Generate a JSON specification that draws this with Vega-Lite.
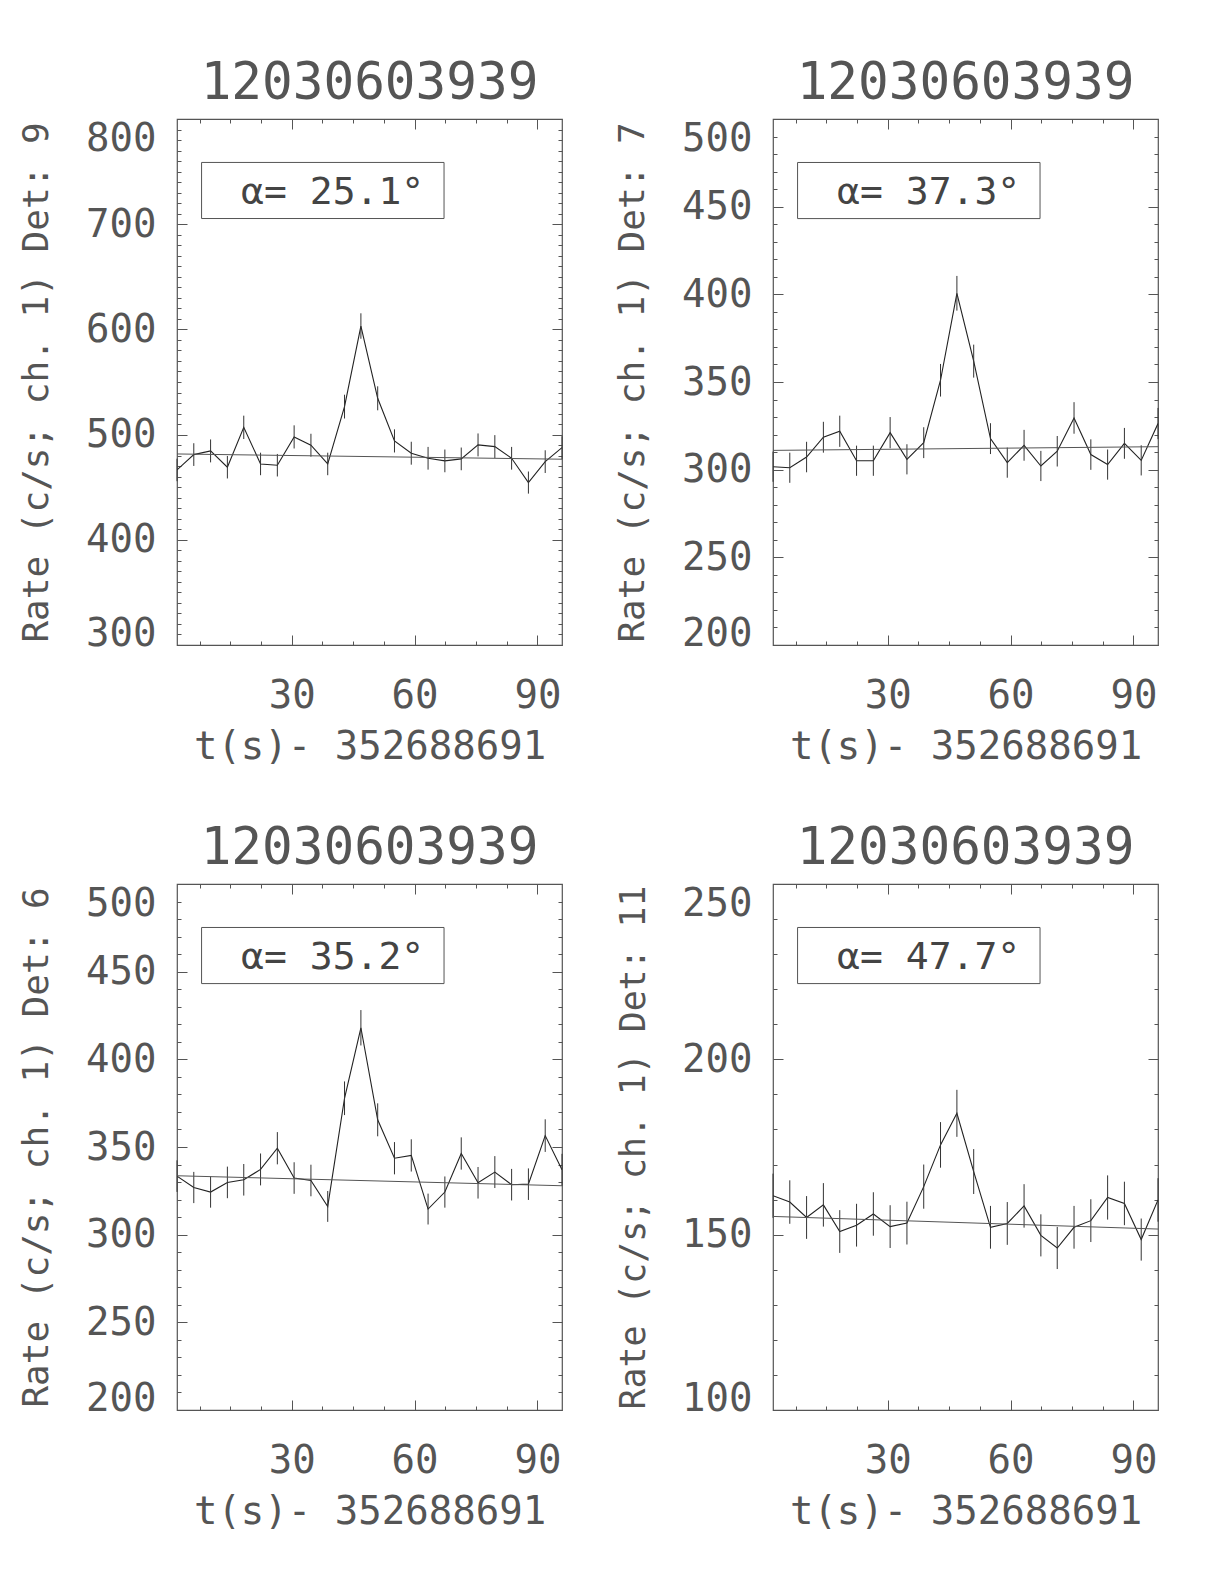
{
  "$schema": "https://vega.github.io/schema/vega-lite/v6.json",
  "padding": {"left": 17, "top": 56, "right": 10, "bottom": 10},
  "background": "white",
  "datasets": {
    "p1": [
      {"t": 2.0, "rate": 466.4, "err": 10.7}, {"t": 6.1, "rate": 481.0, "err": 10.8}, {"t": 10.2, "rate": 484.5, "err": 10.9}, {"t": 14.3, "rate": 469.0, "err": 10.7},
      {"t": 18.3, "rate": 506.9, "err": 11.1}, {"t": 22.4, "rate": 472.1, "err": 10.7}, {"t": 26.5, "rate": 470.9, "err": 10.7}, {"t": 30.6, "rate": 497.8, "err": 11.0},
      {"t": 34.7, "rate": 489.9, "err": 10.9}, {"t": 38.8, "rate": 472.1, "err": 10.7}, {"t": 42.9, "rate": 526.6, "err": 11.3}, {"t": 46.9, "rate": 603.2, "err": 12.1},
      {"t": 51.0, "rate": 534.5, "err": 11.4}, {"t": 55.1, "rate": 494.0, "err": 11.0}, {"t": 59.2, "rate": 482.3, "err": 10.9}, {"t": 63.3, "rate": 477.5, "err": 10.8},
      {"t": 67.4, "rate": 475.0, "err": 10.8}, {"t": 71.4, "rate": 476.9, "err": 10.8}, {"t": 75.5, "rate": 490.2, "err": 10.9}, {"t": 79.6, "rate": 488.6, "err": 10.9},
      {"t": 83.7, "rate": 477.5, "err": 10.8}, {"t": 87.8, "rate": 454.4, "err": 10.5}, {"t": 91.9, "rate": 474.3, "err": 10.8}, {"t": 96.0, "rate": 487.6, "err": 10.9}
    ],
    "p2": [
      {"t": 2.0, "rate": 301.7, "err": 8.6}, {"t": 6.1, "rate": 301.1, "err": 8.6}, {"t": 10.2, "rate": 307.2, "err": 8.7}, {"t": 14.3, "rate": 318.5, "err": 8.8},
      {"t": 18.3, "rate": 321.9, "err": 8.9}, {"t": 22.4, "rate": 305.1, "err": 8.6}, {"t": 26.5, "rate": 305.1, "err": 8.6}, {"t": 30.6, "rate": 321.1, "err": 8.9},
      {"t": 34.7, "rate": 305.9, "err": 8.6}, {"t": 38.8, "rate": 315.4, "err": 8.8}, {"t": 42.9, "rate": 351.0, "err": 9.3}, {"t": 46.9, "rate": 400.6, "err": 9.9},
      {"t": 51.0, "rate": 361.9, "err": 9.4}, {"t": 55.1, "rate": 317.7, "err": 8.8}, {"t": 59.2, "rate": 304.0, "err": 8.6}, {"t": 63.3, "rate": 313.9, "err": 8.8},
      {"t": 67.4, "rate": 302.1, "err": 8.6}, {"t": 71.4, "rate": 310.5, "err": 8.7}, {"t": 75.5, "rate": 329.5, "err": 9.0}, {"t": 79.6, "rate": 308.6, "err": 8.7},
      {"t": 83.7, "rate": 302.9, "err": 8.6}, {"t": 87.8, "rate": 315.0, "err": 8.8}, {"t": 91.9, "rate": 305.3, "err": 8.6}, {"t": 96.0, "rate": 326.3, "err": 8.9}
    ],
    "p3": [
      {"t": 2.0, "rate": 333.4, "err": 9.0}, {"t": 6.1, "rate": 326.9, "err": 8.9}, {"t": 10.2, "rate": 324.3, "err": 8.9}, {"t": 14.3, "rate": 329.8, "err": 9.0},
      {"t": 18.3, "rate": 331.3, "err": 9.0}, {"t": 22.4, "rate": 337.2, "err": 9.1}, {"t": 26.5, "rate": 349.3, "err": 9.2}, {"t": 30.6, "rate": 332.3, "err": 9.0},
      {"t": 34.7, "rate": 330.9, "err": 9.0}, {"t": 38.8, "rate": 316.1, "err": 8.8}, {"t": 42.9, "rate": 377.8, "err": 9.6}, {"t": 46.9, "rate": 418.0, "err": 10.1},
      {"t": 51.0, "rate": 365.5, "err": 9.4}, {"t": 55.1, "rate": 343.6, "err": 9.2}, {"t": 59.2, "rate": 345.2, "err": 9.2}, {"t": 63.3, "rate": 314.6, "err": 8.8},
      {"t": 67.4, "rate": 324.3, "err": 8.9}, {"t": 71.4, "rate": 346.3, "err": 9.2}, {"t": 75.5, "rate": 329.6, "err": 9.0}, {"t": 79.6, "rate": 335.7, "err": 9.1},
      {"t": 83.7, "rate": 328.5, "err": 9.0}, {"t": 87.8, "rate": 328.8, "err": 9.0}, {"t": 91.9, "rate": 356.5, "err": 9.3}, {"t": 96.0, "rate": 337.0, "err": 9.1}
    ],
    "p4": [
      {"t": 2.0, "rate": 161.1, "err": 6.3}, {"t": 6.1, "rate": 159.3, "err": 6.2}, {"t": 10.2, "rate": 154.9, "err": 6.1}, {"t": 14.3, "rate": 158.5, "err": 6.2},
      {"t": 18.3, "rate": 150.9, "err": 6.1}, {"t": 22.4, "rate": 152.7, "err": 6.1}, {"t": 26.5, "rate": 155.9, "err": 6.2}, {"t": 30.6, "rate": 152.3, "err": 6.1},
      {"t": 34.7, "rate": 153.3, "err": 6.1}, {"t": 38.8, "rate": 163.7, "err": 6.3}, {"t": 42.9, "rate": 175.6, "err": 6.5}, {"t": 46.9, "rate": 184.6, "err": 6.7},
      {"t": 51.0, "rate": 168.0, "err": 6.4}, {"t": 55.1, "rate": 152.1, "err": 6.1}, {"t": 59.2, "rate": 153.2, "err": 6.1}, {"t": 63.3, "rate": 158.2, "err": 6.2},
      {"t": 67.4, "rate": 149.8, "err": 6.0}, {"t": 71.4, "rate": 146.2, "err": 6.0}, {"t": 75.5, "rate": 152.1, "err": 6.1}, {"t": 79.6, "rate": 154.0, "err": 6.1},
      {"t": 83.7, "rate": 160.6, "err": 6.3}, {"t": 87.8, "rate": 158.9, "err": 6.2}, {"t": 91.9, "rate": 148.6, "err": 6.0}, {"t": 96.0, "rate": 159.9, "err": 6.2}
    ],
    "f1": [{"t": 2.0, "rate": 481.6}, {"t": 96.0, "rate": 476.6}],
    "f2": [{"t": 2.0, "rate": 311.0}, {"t": 96.0, "rate": 313.1}],
    "f3": [{"t": 2.0, "rate": 333.6}, {"t": 96.0, "rate": 327.9}],
    "f4": [{"t": 2.0, "rate": 155.2}, {"t": 96.0, "rate": 151.6}],
    "a1": [{"label": "α= 25.1°"}],
    "a2": [{"label": "α= 37.3°"}],
    "a3": [{"label": "α= 35.2°"}],
    "a4": [{"label": "α= 47.7°"}]
  },
  "columns": 2,
  "spacing": {"row": 239, "column": 211},
  "bounds": "flush",
  "concat": [
    {
      "width": 385, "height": 526,
      "title": "12030603939",
      "resolve": {"axis": {"x": "independent", "y": "independent"}},
      "layer": [
        {
          "data": {"name": "p1"},
          "mark": {"type": "line", "color": "#222", "strokeWidth": 1.1, "clip": true},
          "encoding": {
            "x": {"field": "t", "type": "quantitative", "scale": {"domain": [2, 96], "nice": false, "zero": false},
              "axis": {"orient": "bottom", "values": [30, 60, 90], "tickSize": -10, "labelPadding": 41, "title": "t(s)- 352688691", "titlePadding": 12}},
            "y": {"field": "rate", "type": "quantitative", "scale": {"domain": [300, 800], "nice": false, "zero": false},
              "axis": {"orient": "left", "values": [300, 400, 500, 600, 700, 800], "tickSize": -10, "labelPadding": 31, "title": "Rate (c/s; ch. 1) Det: 9", "titlePadding": 30, "titleFontSize": 36,
                "labelBaseline": {"condition": [{"test": "datum.value <= 300", "value": "alphabetic"}, {"test": "datum.value >= 800", "value": "top"}], "value": "middle"}}}
          }
        },
        {
          "data": {"name": "p1"},
          "mark": {"type": "errorbar", "color": "#333"},
          "encoding": {
            "x": {"field": "t", "type": "quantitative", "scale": {"domain": [2, 96], "nice": false, "zero": false},
              "axis": {"orient": "bottom", "values": [7.5, 15, 22.5, 37.5, 45, 52.5, 67.5, 75, 82.5], "tickSize": -4, "labels": false, "title": null}},
            "y": {"field": "rate", "type": "quantitative", "scale": {"domain": [300, 800], "nice": false, "zero": false},
              "axis": {"orient": "left", "values": [310,320,330,340,350,360,370,380,390,410,420,430,440,450,460,470,480,490,510,520,530,540,550,560,570,580,590,610,620,630,640,650,660,670,680,690,710,720,730,740,750,760,770,780,790], "tickSize": -4, "labels": false, "title": null}},
            "yError": {"field": "err"}
          }
        },
        {
          "data": {"name": "f1"},
          "mark": {"type": "line", "color": "#555", "strokeWidth": 1},
          "encoding": {
            "x": {"field": "t", "type": "quantitative", "scale": {"domain": [2, 96], "nice": false, "zero": false},
              "axis": {"orient": "top", "values": [30, 60, 90], "tickSize": -10, "labels": false, "title": null}},
            "y": {"field": "rate", "type": "quantitative", "scale": {"domain": [300, 800], "nice": false, "zero": false},
              "axis": {"orient": "right", "values": [300, 400, 500, 600, 700, 800], "tickSize": -10, "labels": false, "title": null}}
          }
        },
        {
          "data": {"name": "a1"},
          "mark": {"type": "rect", "filled": false, "stroke": "#555", "strokeWidth": 1},
          "encoding": {
            "x": {"datum": 8, "type": "quantitative", "scale": {"domain": [2, 96], "nice": false, "zero": false},
              "axis": {"orient": "top", "values": [7.5, 15, 22.5, 37.5, 45, 52.5, 67.5, 75, 82.5], "tickSize": -4, "labels": false, "title": null}},
            "x2": {"datum": 67.2},
            "y": {"datum": 758.7, "type": "quantitative", "scale": {"domain": [300, 800], "nice": false, "zero": false},
              "axis": {"orient": "right", "values": [310,320,330,340,350,360,370,380,390,410,420,430,440,450,460,470,480,490,510,520,530,540,550,560,570,580,590,610,620,630,640,650,660,670,680,690,710,720,730,740,750,760,770,780,790], "tickSize": -4, "labels": false, "title": null}},
            "y2": {"datum": 705.4}
          }
        },
        {
          "data": {"name": "a1"},
          "mark": {"type": "text", "font": "DejaVu Sans Mono", "fontSize": 38, "fontWeight": 200, "color": "#444", "align": "center", "baseline": "middle"},
          "encoding": {
            "x": {"datum": 40, "type": "quantitative", "axis": null, "scale": {"domain": [2, 96], "nice": false, "zero": false}},
            "y": {"datum": 729.7, "type": "quantitative", "axis": null, "scale": {"domain": [300, 800], "nice": false, "zero": false}},
            "text": {"field": "label"}
          }
        }
      ]
    },
    {
      "width": 385, "height": 526,
      "title": "12030603939",
      "resolve": {"axis": {"x": "independent", "y": "independent"}},
      "layer": [
        {
          "data": {"name": "p2"},
          "mark": {"type": "line", "color": "#222", "strokeWidth": 1.1, "clip": true},
          "encoding": {
            "x": {"field": "t", "type": "quantitative", "scale": {"domain": [2, 96], "nice": false, "zero": false},
              "axis": {"orient": "bottom", "values": [30, 60, 90], "tickSize": -10, "labelPadding": 41, "title": "t(s)- 352688691", "titlePadding": 12}},
            "y": {"field": "rate", "type": "quantitative", "scale": {"domain": [200, 500], "nice": false, "zero": false},
              "axis": {"orient": "left", "values": [200, 250, 300, 350, 400, 450, 500], "tickSize": -10, "labelPadding": 31, "title": "Rate (c/s; ch. 1) Det: 7", "titlePadding": 30, "titleFontSize": 36,
                "labelBaseline": {"condition": [{"test": "datum.value <= 200", "value": "alphabetic"}, {"test": "datum.value >= 500", "value": "top"}], "value": "middle"}}}
          }
        },
        {
          "data": {"name": "p2"},
          "mark": {"type": "errorbar", "color": "#333"},
          "encoding": {
            "x": {"field": "t", "type": "quantitative", "scale": {"domain": [2, 96], "nice": false, "zero": false},
              "axis": {"orient": "bottom", "values": [7.5, 15, 22.5, 37.5, 45, 52.5, 67.5, 75, 82.5], "tickSize": -4, "labels": false, "title": null}},
            "y": {"field": "rate", "type": "quantitative", "scale": {"domain": [200, 500], "nice": false, "zero": false},
              "axis": {"orient": "left", "values": [210,220,230,240,260,270,280,290,310,320,330,340,360,370,380,390,410,420,430,440,460,470,480,490], "tickSize": -4, "labels": false, "title": null}},
            "yError": {"field": "err"}
          }
        },
        {
          "data": {"name": "f2"},
          "mark": {"type": "line", "color": "#555", "strokeWidth": 1},
          "encoding": {
            "x": {"field": "t", "type": "quantitative", "scale": {"domain": [2, 96], "nice": false, "zero": false},
              "axis": {"orient": "top", "values": [30, 60, 90], "tickSize": -10, "labels": false, "title": null}},
            "y": {"field": "rate", "type": "quantitative", "scale": {"domain": [200, 500], "nice": false, "zero": false},
              "axis": {"orient": "right", "values": [200, 250, 300, 350, 400, 450, 500], "tickSize": -10, "labels": false, "title": null}}
          }
        },
        {
          "data": {"name": "a2"},
          "mark": {"type": "rect", "filled": false, "stroke": "#555", "strokeWidth": 1},
          "encoding": {
            "x": {"datum": 8, "type": "quantitative", "scale": {"domain": [2, 96], "nice": false, "zero": false},
              "axis": {"orient": "top", "values": [7.5, 15, 22.5, 37.5, 45, 52.5, 67.5, 75, 82.5], "tickSize": -4, "labels": false, "title": null}},
            "x2": {"datum": 67.2},
            "y": {"datum": 475.2, "type": "quantitative", "scale": {"domain": [200, 500], "nice": false, "zero": false},
              "axis": {"orient": "right", "values": [210,220,230,240,260,270,280,290,310,320,330,340,360,370,380,390,410,420,430,440,460,470,480,490], "tickSize": -4, "labels": false, "title": null}},
            "y2": {"datum": 443.2}
          }
        },
        {
          "data": {"name": "a2"},
          "mark": {"type": "text", "font": "DejaVu Sans Mono", "fontSize": 38, "fontWeight": 200, "color": "#444", "align": "center", "baseline": "middle"},
          "encoding": {
            "x": {"datum": 40, "type": "quantitative", "axis": null, "scale": {"domain": [2, 96], "nice": false, "zero": false}},
            "y": {"datum": 457.8, "type": "quantitative", "axis": null, "scale": {"domain": [200, 500], "nice": false, "zero": false}},
            "text": {"field": "label"}
          }
        }
      ]
    },
    {
      "width": 385, "height": 526,
      "title": "12030603939",
      "resolve": {"axis": {"x": "independent", "y": "independent"}},
      "layer": [
        {
          "data": {"name": "p3"},
          "mark": {"type": "line", "color": "#222", "strokeWidth": 1.1, "clip": true},
          "encoding": {
            "x": {"field": "t", "type": "quantitative", "scale": {"domain": [2, 96], "nice": false, "zero": false},
              "axis": {"orient": "bottom", "values": [30, 60, 90], "tickSize": -10, "labelPadding": 41, "title": "t(s)- 352688691", "titlePadding": 12}},
            "y": {"field": "rate", "type": "quantitative", "scale": {"domain": [200, 500], "nice": false, "zero": false},
              "axis": {"orient": "left", "values": [200, 250, 300, 350, 400, 450, 500], "tickSize": -10, "labelPadding": 31, "title": "Rate (c/s; ch. 1) Det: 6", "titlePadding": 30, "titleFontSize": 36,
                "labelBaseline": {"condition": [{"test": "datum.value <= 200", "value": "alphabetic"}, {"test": "datum.value >= 500", "value": "top"}], "value": "middle"}}}
          }
        },
        {
          "data": {"name": "p3"},
          "mark": {"type": "errorbar", "color": "#333"},
          "encoding": {
            "x": {"field": "t", "type": "quantitative", "scale": {"domain": [2, 96], "nice": false, "zero": false},
              "axis": {"orient": "bottom", "values": [7.5, 15, 22.5, 37.5, 45, 52.5, 67.5, 75, 82.5], "tickSize": -4, "labels": false, "title": null}},
            "y": {"field": "rate", "type": "quantitative", "scale": {"domain": [200, 500], "nice": false, "zero": false},
              "axis": {"orient": "left", "values": [210,220,230,240,260,270,280,290,310,320,330,340,360,370,380,390,410,420,430,440,460,470,480,490], "tickSize": -4, "labels": false, "title": null}},
            "yError": {"field": "err"}
          }
        },
        {
          "data": {"name": "f3"},
          "mark": {"type": "line", "color": "#555", "strokeWidth": 1},
          "encoding": {
            "x": {"field": "t", "type": "quantitative", "scale": {"domain": [2, 96], "nice": false, "zero": false},
              "axis": {"orient": "top", "values": [30, 60, 90], "tickSize": -10, "labels": false, "title": null}},
            "y": {"field": "rate", "type": "quantitative", "scale": {"domain": [200, 500], "nice": false, "zero": false},
              "axis": {"orient": "right", "values": [200, 250, 300, 350, 400, 450, 500], "tickSize": -10, "labels": false, "title": null}}
          }
        },
        {
          "data": {"name": "a3"},
          "mark": {"type": "rect", "filled": false, "stroke": "#555", "strokeWidth": 1},
          "encoding": {
            "x": {"datum": 8, "type": "quantitative", "scale": {"domain": [2, 96], "nice": false, "zero": false},
              "axis": {"orient": "top", "values": [7.5, 15, 22.5, 37.5, 45, 52.5, 67.5, 75, 82.5], "tickSize": -4, "labels": false, "title": null}},
            "x2": {"datum": 67.2},
            "y": {"datum": 475.2, "type": "quantitative", "scale": {"domain": [200, 500], "nice": false, "zero": false},
              "axis": {"orient": "right", "values": [210,220,230,240,260,270,280,290,310,320,330,340,360,370,380,390,410,420,430,440,460,470,480,490], "tickSize": -4, "labels": false, "title": null}},
            "y2": {"datum": 443.2}
          }
        },
        {
          "data": {"name": "a3"},
          "mark": {"type": "text", "font": "DejaVu Sans Mono", "fontSize": 38, "fontWeight": 200, "color": "#444", "align": "center", "baseline": "middle"},
          "encoding": {
            "x": {"datum": 40, "type": "quantitative", "axis": null, "scale": {"domain": [2, 96], "nice": false, "zero": false}},
            "y": {"datum": 457.8, "type": "quantitative", "axis": null, "scale": {"domain": [200, 500], "nice": false, "zero": false}},
            "text": {"field": "label"}
          }
        }
      ]
    },
    {
      "width": 385, "height": 526,
      "title": "12030603939",
      "resolve": {"axis": {"x": "independent", "y": "independent"}},
      "layer": [
        {
          "data": {"name": "p4"},
          "mark": {"type": "line", "color": "#222", "strokeWidth": 1.1, "clip": true},
          "encoding": {
            "x": {"field": "t", "type": "quantitative", "scale": {"domain": [2, 96], "nice": false, "zero": false},
              "axis": {"orient": "bottom", "values": [30, 60, 90], "tickSize": -10, "labelPadding": 41, "title": "t(s)- 352688691", "titlePadding": 12}},
            "y": {"field": "rate", "type": "quantitative", "scale": {"domain": [100, 250], "nice": false, "zero": false},
              "axis": {"orient": "left", "values": [100, 150, 200, 250], "tickSize": -10, "labelPadding": 31, "title": "Rate (c/s; ch. 1) Det: 11", "titlePadding": 30, "titleFontSize": 34.8,
                "labelBaseline": {"condition": [{"test": "datum.value <= 100", "value": "alphabetic"}, {"test": "datum.value >= 250", "value": "top"}], "value": "middle"}}}
          }
        },
        {
          "data": {"name": "p4"},
          "mark": {"type": "errorbar", "color": "#333"},
          "encoding": {
            "x": {"field": "t", "type": "quantitative", "scale": {"domain": [2, 96], "nice": false, "zero": false},
              "axis": {"orient": "bottom", "values": [7.5, 15, 22.5, 37.5, 45, 52.5, 67.5, 75, 82.5], "tickSize": -4, "labels": false, "title": null}},
            "y": {"field": "rate", "type": "quantitative", "scale": {"domain": [100, 250], "nice": false, "zero": false},
              "axis": {"orient": "left", "values": [110,120,130,140,160,170,180,190,210,220,230,240], "tickSize": -4, "labels": false, "title": null}},
            "yError": {"field": "err"}
          }
        },
        {
          "data": {"name": "f4"},
          "mark": {"type": "line", "color": "#555", "strokeWidth": 1},
          "encoding": {
            "x": {"field": "t", "type": "quantitative", "scale": {"domain": [2, 96], "nice": false, "zero": false},
              "axis": {"orient": "top", "values": [30, 60, 90], "tickSize": -10, "labels": false, "title": null}},
            "y": {"field": "rate", "type": "quantitative", "scale": {"domain": [100, 250], "nice": false, "zero": false},
              "axis": {"orient": "right", "values": [100, 150, 200, 250], "tickSize": -10, "labels": false, "title": null}}
          }
        },
        {
          "data": {"name": "a4"},
          "mark": {"type": "rect", "filled": false, "stroke": "#555", "strokeWidth": 1},
          "encoding": {
            "x": {"datum": 8, "type": "quantitative", "scale": {"domain": [2, 96], "nice": false, "zero": false},
              "axis": {"orient": "top", "values": [7.5, 15, 22.5, 37.5, 45, 52.5, 67.5, 75, 82.5], "tickSize": -4, "labels": false, "title": null}},
            "x2": {"datum": 67.2},
            "y": {"datum": 237.6, "type": "quantitative", "scale": {"domain": [100, 250], "nice": false, "zero": false},
              "axis": {"orient": "right", "values": [110,120,130,140,160,170,180,190,210,220,230,240], "tickSize": -4, "labels": false, "title": null}},
            "y2": {"datum": 221.6}
          }
        },
        {
          "data": {"name": "a4"},
          "mark": {"type": "text", "font": "DejaVu Sans Mono", "fontSize": 38, "fontWeight": 200, "color": "#444", "align": "center", "baseline": "middle"},
          "encoding": {
            "x": {"datum": 40, "type": "quantitative", "axis": null, "scale": {"domain": [2, 96], "nice": false, "zero": false}},
            "y": {"datum": 228.9, "type": "quantitative", "axis": null, "scale": {"domain": [100, 250], "nice": false, "zero": false}},
            "text": {"field": "label"}
          }
        }
      ]
    }
  ],
  "config": {
    "font": "DejaVu Sans Mono",
    "view": {"stroke": "#555", "strokeWidth": 1.2},
    "axis": {
      "grid": false, "domain": false, "tickColor": "#555", "tickWidth": 1,
      "labelFont": "DejaVu Sans Mono", "labelFontSize": 39, "labelFontWeight": 200, "labelColor": "#555",
      "titleFont": "DejaVu Sans Mono", "titleFontSize": 39, "titleFontWeight": 200, "titleColor": "#555",
      "labelOverlap": false, "labelBound": false, "labelFlush": false
    },
    "title": {"font": "DejaVu Sans Mono", "fontSize": 51, "fontWeight": 200, "color": "#555", "baseline": "alphabetic", "offset": 9, "frame": "group"}
  }
}
